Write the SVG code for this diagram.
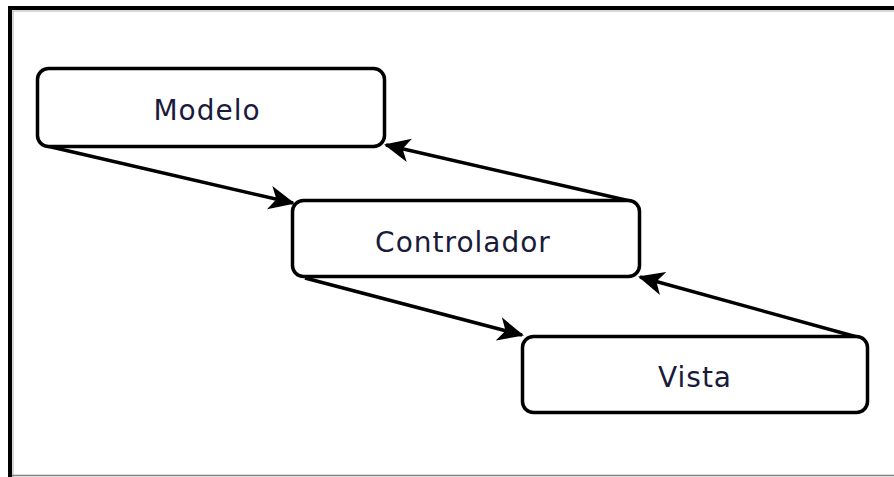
<svg xmlns="http://www.w3.org/2000/svg" width="894" height="477" viewBox="0 0 894 477">
  <style>
    .box { fill: #ffffff; stroke: #000000; stroke-width: 3.5; }
    .label { font-family: "DejaVu Sans", sans-serif; font-size: 28px; letter-spacing: 1px; fill: #1a1a3a; text-anchor: middle; }
    .edge { fill: none; stroke: #000000; stroke-width: 3.5; marker-end: url(#head); }
  </style>
  <defs>
    <marker id="head" viewBox="0 0 26 26" refX="24" refY="13" markerWidth="26" markerHeight="26" markerUnits="userSpaceOnUse" orient="auto">
      <path d="M0,1 L26,13 L0,25 L7,13 Z" fill="#000000"/>
    </marker>
  </defs>

  <!-- frame -->
  <rect x="0" y="0" width="894" height="477" fill="#ffffff"/>
  <line x1="8" y1="8" x2="894" y2="8" stroke="#000000" stroke-width="4"/>
  <line x1="10" y1="6" x2="10" y2="477" stroke="#000000" stroke-width="4"/>
  <line x1="12" y1="11" x2="894" y2="11" stroke="#b0b0b0" stroke-width="1"/>
  <line x1="13" y1="11" x2="13" y2="477" stroke="#b0b0b0" stroke-width="1"/>
  <line x1="12" y1="475.5" x2="894" y2="475.5" stroke="#808080" stroke-width="1.5"/>

  <g id="connectors">
    <line class="edge" x1="47" y1="146" x2="293" y2="203"/>
    <line class="edge" x1="630" y1="201" x2="386" y2="145"/>
    <line class="edge" x1="305" y1="278" x2="522" y2="335"/>
    <line class="edge" x1="857" y1="337" x2="640" y2="277"/>
  </g>

  <g id="modelo">
    <rect class="box" x="37.5" y="68.5" width="347" height="78" rx="11"/>
    <text class="label" x="207" y="120">Modelo</text>
  </g>

  <g id="controlador">
    <rect class="box" x="292.5" y="200.5" width="347" height="76" rx="11"/>
    <text class="label" x="463" y="252">Controlador</text>
  </g>

  <g id="vista">
    <rect class="box" x="522.5" y="336.5" width="345" height="76" rx="11"/>
    <text class="label" x="695" y="387">Vista</text>
  </g>
</svg>
